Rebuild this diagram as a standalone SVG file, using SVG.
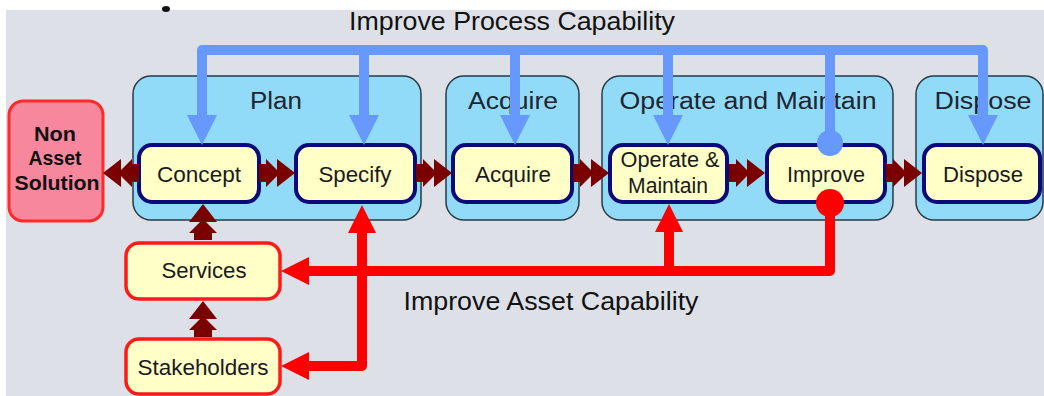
<svg xmlns="http://www.w3.org/2000/svg" xmlns:xlink="http://www.w3.org/1999/xlink" width="1044" height="396" viewBox="0 0 1044 396">
<style>
.bg{fill:#dde1e7}
.stage{fill:#91dbf8;stroke:#2a3a48;stroke-width:1.5}
.stagelbl{font-family:"Liberation Sans",Arial,sans-serif;font-size:23px;fill:#1c2530;text-anchor:middle}
.node{fill:#ffffc8;stroke:#0a0a78;stroke-width:4}
.rnode{fill:#ffffc8;stroke:#ff1a1a;stroke-width:3.5}
.pink{fill:#f6879d;stroke:#ff2a2a;stroke-width:3}
.lbl{font-family:"Liberation Sans",Arial,sans-serif;font-size:22px;fill:#1a1a1a;text-anchor:middle}
.bold{font-family:"Liberation Sans",Arial,sans-serif;font-size:20px;font-weight:bold;fill:#111;text-anchor:middle}
.title{font-family:"Liberation Sans",Arial,sans-serif;font-size:25px;fill:#111;text-anchor:middle}
.blue{fill:none;stroke:#6699fb;stroke-width:10;stroke-linejoin:round}
.red{fill:none;stroke:#ff0000;stroke-width:10;stroke-linejoin:round}
.chev{fill:#7a0000}
</style>
<defs>
<marker id="bh" markerUnits="userSpaceOnUse" markerWidth="30" markerHeight="30" viewBox="0 0 30 30" refX="0" refY="15" orient="auto-start-reverse"><path d="M0,0 L30,15 L0,30 z" fill="#6699fb"/></marker>
<marker id="rh" markerUnits="userSpaceOnUse" markerWidth="28" markerHeight="30" viewBox="0 0 28 30" refX="0" refY="15" orient="auto-start-reverse"><path d="M0,1 L28,15 L0,29 z" fill="#ff0000"/></marker>
<path id="dchev" d="M0,-9 L7,-9 L7,-14 L18,-3 L18,-14 L36,0 L18,14 L18,3 L7,14 L7,9 L0,9 z"/>
</defs>
<rect x="0" y="0" width="1044" height="396" fill="#ffffff"/>
<rect class="bg" x="6" y="10" width="1038" height="386"/>
<ellipse cx="166" cy="9" rx="4" ry="3" fill="#111"/>
<text class="title" x="512" y="30" textLength="326" lengthAdjust="spacingAndGlyphs">Improve Process Capability</text>
<text class="title" x="551" y="310" textLength="295" lengthAdjust="spacingAndGlyphs">Improve Asset Capability</text>
<g id="stage-plan"><rect class="stage" x="133" y="76" width="288" height="144" rx="18"/><text class="stagelbl" x="276" y="109" textLength="52" lengthAdjust="spacingAndGlyphs">Plan</text></g>
<g id="stage-acquire"><rect class="stage" x="446" y="76" width="133" height="144" rx="18"/><text class="stagelbl" x="513" y="109" textLength="90" lengthAdjust="spacingAndGlyphs">Acquire</text></g>
<g id="stage-operate"><rect class="stage" x="602" y="76" width="291" height="144" rx="18"/><text class="stagelbl" x="748" y="109" textLength="257" lengthAdjust="spacingAndGlyphs">Operate and Maintain</text></g>
<g id="stage-dispose"><rect class="stage" x="916" y="76" width="127" height="144" rx="18"/><text class="stagelbl" x="983" y="109" textLength="97" lengthAdjust="spacingAndGlyphs">Dispose</text></g>
<g id="non-asset"><rect class="pink" x="9" y="101" width="94" height="120" rx="14"/><text class="bold" x="55" y="141" textLength="42" lengthAdjust="spacingAndGlyphs">Non</text><text class="bold" x="55" y="165" textLength="53" lengthAdjust="spacingAndGlyphs">Asset</text><text class="bold" x="57" y="190" textLength="85" lengthAdjust="spacingAndGlyphs">Solution</text></g>
<g id="concept"><rect class="node" x="139" y="145" width="120" height="57" rx="13"/><text class="lbl" x="199" y="182" textLength="84" lengthAdjust="spacingAndGlyphs">Concept</text></g>
<g id="specify"><rect class="node" x="296" y="145" width="119" height="57" rx="13"/><text class="lbl" x="355" y="182" textLength="73" lengthAdjust="spacingAndGlyphs">Specify</text></g>
<g id="acquire"><rect class="node" x="453" y="145" width="119" height="57" rx="13"/><text class="lbl" x="513" y="182" textLength="76" lengthAdjust="spacingAndGlyphs">Acquire</text></g>
<g id="operate"><rect class="node" x="610" y="145" width="117" height="57" rx="13"/><text class="lbl" x="670" y="167" textLength="99" lengthAdjust="spacingAndGlyphs">Operate &amp;</text><text class="lbl" x="668" y="193" textLength="80" lengthAdjust="spacingAndGlyphs">Maintain</text></g>
<g id="improve"><rect class="node" x="767" y="145" width="118" height="57" rx="13"/><text class="lbl" x="826" y="182" textLength="78" lengthAdjust="spacingAndGlyphs">Improve</text></g>
<g id="dispose"><rect class="node" x="924" y="145" width="116" height="57" rx="13"/><text class="lbl" x="983" y="182" textLength="80" lengthAdjust="spacingAndGlyphs">Dispose</text></g>
<g id="services"><rect class="rnode" x="126" y="243" width="154" height="56" rx="13"/><text class="lbl" x="204" y="278" textLength="85" lengthAdjust="spacingAndGlyphs">Services</text></g>
<g id="stakeholders"><rect class="rnode" x="126" y="339" width="154" height="55" rx="13"/><text class="lbl" x="203" y="375" textLength="131" lengthAdjust="spacingAndGlyphs">Stakeholders</text></g>
<g id="connectors">
<g class="chev">
<use xlink:href="#dchev" transform="translate(139,173) scale(-1,1)"/>
<use xlink:href="#dchev" transform="translate(259,173)"/>
<use xlink:href="#dchev" transform="translate(416,173)"/>
<use xlink:href="#dchev" transform="translate(573,173)"/>
<use xlink:href="#dchev" transform="translate(729,173)"/>
<use xlink:href="#dchev" transform="translate(886,173)"/>
<use xlink:href="#dchev" transform="translate(203,240) rotate(-90)"/>
<use xlink:href="#dchev" transform="translate(203,337) rotate(-90)"/>
</g>
<path class="blue" d="M202,115 V50 H983 V115" marker-start="url(#bh)" marker-end="url(#bh)"/>
<path class="blue" d="M364,50 V115" marker-end="url(#bh)"/>
<path class="blue" d="M515,50 V115" marker-end="url(#bh)"/>
<path class="blue" d="M668,50 V115" marker-end="url(#bh)"/>
<path class="blue" d="M830,50 V140"/>
<circle cx="830" cy="143" r="13" fill="#6699fb"/>
<path class="red" d="M830,203 V271 H309" marker-end="url(#rh)"/>
<path class="red" d="M669,271 V232" marker-end="url(#rh)"/>
<path class="red" d="M309,366 H362 V233" marker-start="url(#rh)" marker-end="url(#rh)"/>
<circle cx="830" cy="203" r="14" fill="#ff0000"/>
</g>
</svg>
